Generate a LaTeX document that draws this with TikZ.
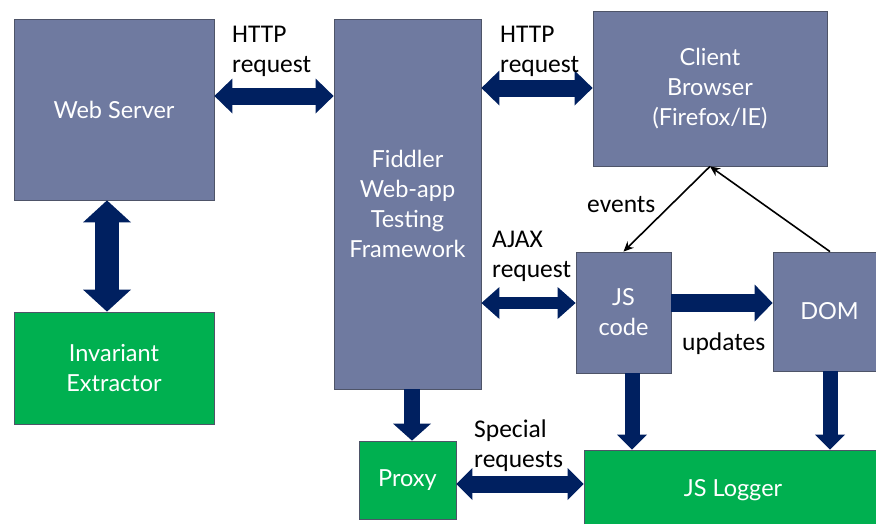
\documentclass[tikz,border=0pt]{standalone}
\usepackage{fontspec}
\setmainfont{Carlito}
\newfontfamily\boxfont{Lato}
\usetikzlibrary{arrows.meta}
\definecolor{slate}{HTML}{6F7AA0}
\definecolor{slateborder}{HTML}{4E5468}
\definecolor{grn}{HTML}{00B050}
\definecolor{navy}{HTML}{002060}
\tikzset{
  blk/.style={draw=slateborder, line width=0.8pt, fill=#1, text=white, align=center,
    font=\boxfont\fontsize{23.5}{30}\selectfont, inner sep=0pt},
  lbl/.style={align=left, font=\fontsize{25.5}{30}\selectfont, inner sep=0pt, anchor=base west},
  fatboth/.style n args={3}{draw=navy, line width=#1,
    {Triangle[width=#2,length=#3,line width=0pt]}-{Triangle[width=#2,length=#3,line width=0pt]}},
  fatone/.style n args={3}{draw=navy, line width=#1,
    -{Triangle[width=#2,length=#3,line width=0pt]}},
  thin/.style={draw=black, line width=1.6pt, -{Stealth[length=10pt,width=9pt]}}
}
\begin{document}
\begin{tikzpicture}[x=1pt,y=-1pt]
\useasboundingbox (0,0) rectangle (876,523);
% boxes
\node[blk=slate, minimum width=200pt, minimum height=181pt] (ws) at (114,109.5) {Web Server};
\node[blk=slate, minimum width=147pt, minimum height=370pt] (fid) at (407.5,204) {Fiddler\\Web-app\\Testing\\Framework};
\node[blk=slate, minimum width=234pt, minimum height=155pt] (cb) at (710,88.5) {Client\\Browser\\(Firefox/IE)};
\node[blk=slate, minimum width=95pt, minimum height=121pt] (js) at (623.5,312.5) {JS\\code};
\node[blk=slate, minimum width=113pt, minimum height=119pt] (dom) at (829.5,311.5) {DOM};
\node[blk=grn, minimum width=200pt, minimum height=112pt] (inv) at (114,368) {Invariant\\Extractor};
\node[blk=grn, minimum width=97pt, minimum height=78pt] (px) at (407.5,480) {Proxy};
\node[blk=grn, minimum width=298pt, minimum height=80pt] (lg) at (733,490) {JS Logger};
% helper coordinates
\coordinate (yh1) at (0,96);
\coordinate (yh2) at (0,88);
\coordinate (yaj) at (0,303);
\coordinate (ysp) at (0,484);
\coordinate (xws) at (107,0);
\coordinate (xfp) at (412,0);
\coordinate (xjs) at (632,0);
\coordinate (xdm) at (830,0);
\coordinate (xcb) at (710,0);
% thick arrows
\draw[fatboth={17pt}{35pt}{18pt}] (ws.east |- yh1) -- (fid.west |- yh1);
\draw[fatboth={17pt}{35pt}{18pt}] (fid.east |- yh2) -- (cb.west |- yh2);
\draw[fatboth={24pt}{48pt}{22pt}] (ws.south -| xws) -- (inv.north -| xws);
\draw[fatboth={12pt}{32pt}{18pt}] (fid.east |- yaj) -- (js.west |- yaj);
\draw[fatboth={17pt}{32pt}{16pt}] (px.east |- ysp) -- (lg.west |- ysp);
\draw[fatone={18pt}{37pt}{18pt}] (js.east |- yaj) -- (dom.west |- yaj);
\draw[fatone={16pt}{38pt}{17pt}] (fid.south -| xfp) -- (px.north -| xfp);
\draw[fatone={15pt}{30pt}{15pt}] (js.south -| xjs) -- (lg.north -| xjs);
\draw[fatone={15pt}{30pt}{15pt}] (dom.south -| xdm) -- (lg.north -| xdm);
% thin arrows
\draw[thin] (cb.south -| xcb) -- (js.north);
\draw[thin] (dom.north -| xdm) -- (cb.south -| xcb);
% labels (base = last line)
\node[lbl] (l1) at (232,72) {HTTP\\request};
\node[lbl] (l2) at (500,72) {HTTP\\request};
\node[lbl] (l3) at (587,212) {events};
\node[lbl] (l4) at (492,277) {AJAX\\request};
\node[lbl] (l5) at (682,350) {updates};
\node[lbl] (l6) at (474,467) {Special\\requests};
\end{tikzpicture}
\end{document}
